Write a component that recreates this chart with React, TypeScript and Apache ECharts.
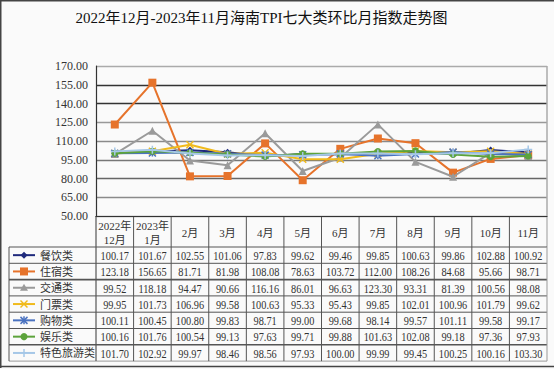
import React, { useEffect, useRef } from "react";
import * as echarts from "echarts";

const categories = ["2022年\n12月", "2023年\n1月", "2月", "3月", "4月", "5月", "6月", "7月", "8月", "9月", "10月", "11月"];
const seriesNames = ["餐饮类", "住宿类", "交通类", "门票类", "购物类", "娱乐类", "特色旅游类"];
const catering = [100.17, 101.67, 102.55, 101.06, 97.83, 99.62, 99.46, 99.85, 100.63, 99.86, 102.88, 100.92];
const lodging = [123.18, 156.65, 81.71, 81.98, 108.08, 78.63, 103.72, 112.0, 108.26, 84.68, 95.66, 98.71];
const transport = [99.52, 118.18, 94.47, 90.66, 116.16, 86.01, 96.63, 123.3, 93.31, 81.39, 100.56, 98.08];
const tickets = [99.95, 101.73, 106.96, 99.58, 100.63, 95.33, 95.43, 99.85, 102.01, 100.96, 101.79, 99.62];
const shopping = [100.11, 100.45, 100.8, 99.83, 98.71, 99.0, 99.68, 98.14, 99.57, 101.11, 99.58, 99.17];
const entertainment = [100.16, 101.76, 100.54, 99.13, 97.63, 99.71, 99.88, 101.63, 102.08, 99.18, 97.36, 97.93];
const specialTour = [101.7, 102.92, 99.97, 98.46, 98.56, 97.93, 100.0, 99.99, 99.45, 100.25, 100.16, 103.3];
const allSeries = [catering, lodging, transport, tickets, shopping, entertainment, specialTour];
const yMin = 50;
const yMax = 170;
const yStep = 15;
const titleText = "2022年12月-2023年11月海南TPI七大类环比月指数走势图";

const colors = ["#1f2a7c", "#e6732b", "#9a9a9a", "#f0ba1c", "#4a72c0", "#5ca33b", "#a5c7e7"];
const symbols = [
  "diamond",
  "rect",
  "triangle",
  "path://M0,0L10,10M10,0L0,10",
  "path://M0,0L10,10M10,0L0,10M5,0L5,10",
  "circle",
  "path://M5,0L5,10M0,5L10,5",
];
const symbolSizes = [7, 8, 8, 7, 7, 7, 8];
const strokeSymbol = [false, false, false, true, true, false, true];

const SERIF = "'Liberation Serif', 'Noto Sans CJK SC', serif";

export default function App() {
  const ref = useRef<HTMLDivElement>(null);
  useEffect(() => {
    if (!ref.current) return;
    const chart = echarts.init(ref.current, null, { renderer: "svg" });
    const W = 554;
    const gridLeft = 96;
    const gridRight = 7;
    const gridTop = 66;
    const gridBottomY = 216;
    const option: any = {
      animation: false,
      backgroundColor: "#fafafa",
      grid: { left: gridLeft, right: gridRight, top: gridTop, bottom: 369 - gridBottomY },
      xAxis: {
        type: "category",
        data: categories,
        boundaryGap: true,
        axisLine: { show: true, lineStyle: { color: "#333", width: 1.2 } },
        axisTick: { show: false },
        axisLabel: { show: false },
        splitLine: { show: false },
      },
      yAxis: {
        type: "value",
        min: yMin,
        max: yMax,
        interval: yStep,
        axisLine: { show: true, lineStyle: { color: "#333", width: 1.2 } },
        axisTick: { show: false },
        axisLabel: {
          formatter: (v: number) => v.toFixed(2),
          color: "#333",
          fontFamily: SERIF,
          fontSize: 12,
          margin: 8,
        },
        splitLine: {
          show: true,
          lineStyle: {
            color: ["#999", "#8a8a8a", "#666", "#777", "#8a8a8a", "#999", "#333", "#333", "#aaa"],
            width: 1.3,
          },
        },
      },
      series: allSeries.map((d, i) => ({
        type: "line",
        name: seriesNames[i],
        data: d,
        symbol: symbols[i],
        symbolSize: symbolSizes[i],
        lineStyle: { color: colors[i], width: 2 },
        itemStyle: strokeSymbol[i]
          ? { color: colors[i], borderColor: colors[i], borderWidth: 1.5 }
          : { color: colors[i], borderWidth: 0 },
        z: 2 + i,
      })),
    };
    chart.setOption(option);

    const c0 = chart.convertToPixel({ xAxisIndex: 0 }, 0) as number;
    const c1 = chart.convertToPixel({ xAxisIndex: 0 }, 1) as number;
    const colW = c1 - c0;
    const centers = categories.map((_, i) => chart.convertToPixel({ xAxisIndex: 0 }, i) as number);
    const bounds = [centers[0] - colW / 2, ...centers.map((c) => c + colW / 2)];
    const rightX = bounds[bounds.length - 1];
    const headerTop = gridBottomY;
    const tableTop = 247;
    const rowH = 16.3;
    const tableBottom = tableTop + rowH * seriesNames.length;
    const tableLeft = 9;
    const lineDark = "#555";

    const g: any[] = [];
    // outer image border
    g.push({ type: "line", shape: { x1: 0, y1: 0.75, x2: W, y2: 0.75 }, style: { stroke: "#444", lineWidth: 1.5 } });
    g.push({ type: "line", shape: { x1: 0.75, y1: 0, x2: 0.75, y2: 368 }, style: { stroke: "#444", lineWidth: 1.5 } });
    g.push({ type: "line", shape: { x1: 0, y1: 366.5, x2: W, y2: 366.5 }, style: { stroke: "#444", lineWidth: 1.5 } });
    // title
    g.push({
      type: "text",
      x: 261.5,
      y: 18,
      style: { text: titleText, fontSize: 15, fontFamily: SERIF, fill: "#111", align: "center", verticalAlign: "middle" },
    });
    // plot right border
    g.push({ type: "line", shape: { x1: rightX, y1: gridTop, x2: rightX, y2: gridBottomY }, style: { stroke: "#aaa", lineWidth: 1.5 } });
    // header verticals
    bounds.forEach((bx, k) => {
      g.push({
        type: "line",
        shape: { x1: bx, y1: headerTop, x2: bx, y2: tableTop },
        style: { stroke: k === 12 ? "#999" : lineDark, lineWidth: k === 0 ? 1.2 : 1 },
      });
    });
    // header labels
    categories.forEach((c, i) => {
      g.push({
        type: "text",
        x: centers[i],
        y: (headerTop + tableTop) / 2 + 1,
        style: { text: c, fontSize: 11, fontFamily: SERIF, fill: "#333", align: "center", verticalAlign: "middle", lineHeight: 14 },
      });
    });
    // table horizontals
    for (let r = 0; r <= seriesNames.length; r++) {
      const y = tableTop + r * rowH;
      const thick = r === 2 || r === 6;
      g.push({
        type: "line",
        shape: { x1: tableLeft, y1: y, x2: rightX, y2: y },
        style: { stroke: r === seriesNames.length ? "#999" : lineDark, lineWidth: thick ? 1.6 : 1 },
      });
    }
    // table verticals
    g.push({ type: "line", shape: { x1: tableLeft, y1: tableTop, x2: tableLeft, y2: tableBottom }, style: { stroke: lineDark, lineWidth: 1 } });
    bounds.forEach((bx, k) => {
      g.push({
        type: "line",
        shape: { x1: bx, y1: tableTop, x2: bx, y2: tableBottom },
        style: { stroke: k === 12 ? "#999" : lineDark, lineWidth: k === 0 ? 1.2 : 1 },
      });
    });
    // legend column + values
    seriesNames.forEach((name, r) => {
      const cy = tableTop + r * rowH + rowH / 2;
      const col = colors[r];
      g.push({ type: "line", shape: { x1: 13, y1: cy, x2: 35, y2: cy }, style: { stroke: col, lineWidth: 2 } });
      const mx = 24;
      if (r === 0) {
        g.push({ type: "polygon", shape: { points: [[mx, cy - 3.5], [mx + 3.5, cy], [mx, cy + 3.5], [mx - 3.5, cy]] }, style: { fill: col } });
      } else if (r === 1) {
        g.push({ type: "rect", shape: { x: mx - 4, y: cy - 4, width: 8, height: 8 }, style: { fill: col } });
      } else if (r === 2) {
        g.push({ type: "polygon", shape: { points: [[mx, cy - 4], [mx + 4, cy + 3], [mx - 4, cy + 3]] }, style: { fill: col } });
      } else if (r === 3) {
        g.push({ type: "line", shape: { x1: mx - 3.5, y1: cy - 3.5, x2: mx + 3.5, y2: cy + 3.5 }, style: { stroke: col, lineWidth: 1.5 } });
        g.push({ type: "line", shape: { x1: mx + 3.5, y1: cy - 3.5, x2: mx - 3.5, y2: cy + 3.5 }, style: { stroke: col, lineWidth: 1.5 } });
      } else if (r === 4) {
        g.push({ type: "line", shape: { x1: mx - 3.5, y1: cy - 3.5, x2: mx + 3.5, y2: cy + 3.5 }, style: { stroke: col, lineWidth: 1.5 } });
        g.push({ type: "line", shape: { x1: mx + 3.5, y1: cy - 3.5, x2: mx - 3.5, y2: cy + 3.5 }, style: { stroke: col, lineWidth: 1.5 } });
        g.push({ type: "line", shape: { x1: mx, y1: cy - 4, x2: mx, y2: cy + 4 }, style: { stroke: col, lineWidth: 1.5 } });
      } else if (r === 5) {
        g.push({ type: "circle", shape: { cx: mx, cy, r: 3.5 }, style: { fill: col } });
      } else {
        g.push({ type: "line", shape: { x1: mx, y1: cy - 4, x2: mx, y2: cy + 4 }, style: { stroke: col, lineWidth: 1.5 } });
      }
      g.push({
        type: "text",
        x: 40,
        y: cy + 0.5,
        style: { text: name, fontSize: 11, fontFamily: SERIF, fill: "#333", align: "left", verticalAlign: "middle" },
      });
      allSeries[r].forEach((v, i) => {
        g.push({
          type: "text",
          x: centers[i],
          y: cy + 0.5,
          scaleX: 0.86,
          style: { text: v.toFixed(2), fontSize: 12, fontFamily: SERIF, fill: "#333", align: "center", verticalAlign: "middle" },
        });
      });
    });

    chart.setOption({ graphic: { elements: g } });
    return () => chart.dispose();
  }, []);
  return <div ref={ref} style={{ position: "fixed", left: 0, top: 0, width: 554, height: 369 }} />;
}
